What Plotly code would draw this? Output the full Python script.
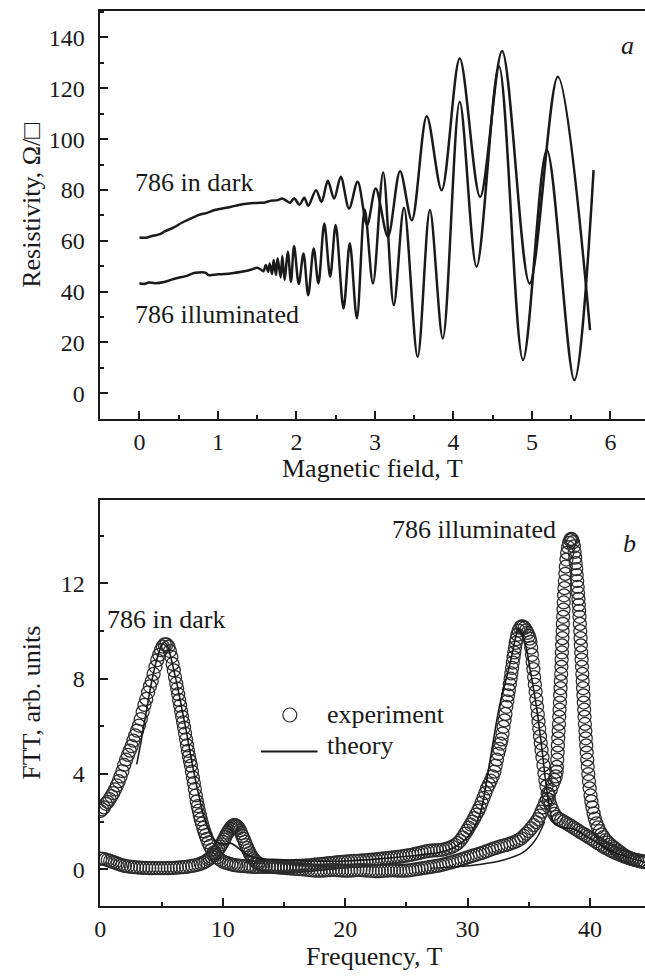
import plotly.graph_objects as go

W, H = 645, 977
FONT = "Liberation Serif"
INK = "#1a1a1a"

# ---------------- panel a: resistivity vs magnetic field ----------------
dark_B = [0.00, 0.08, 0.16, 0.25, 0.33, 0.44, 0.54, 0.65, 0.75, 0.86, 0.96, 1.07, 1.17, 1.28,
          1.39, 1.50, 1.60, 1.68, 1.76, 1.82, 1.87, 1.92, 1.97, 2.04, 2.10, 2.15, 2.25, 2.32,
          2.40, 2.48, 2.565, 2.67, 2.78, 2.90, 3.01, 3.165, 3.32, 3.47, 3.66, 3.85, 4.08, 4.34,
          4.62, 4.97, 5.33, 5.74]
dark_R = [61.3, 61.2, 61.9, 62.5, 63.8, 65.3, 67.1, 68.7, 70.1, 71.0, 72.1, 72.8, 73.4, 74.2,
          74.7, 74.9, 75.1, 75.8, 76.0, 76.6, 75.8, 75.0, 76.7, 74.2, 76.9, 73.8, 79.9, 75.3,
          83.6, 76.6, 85.2, 72.7, 83.2, 66.2, 80.6, 61.6, 87.4, 68.1, 109.0, 79.9, 131.7, 77.3,
          134.7, 43.2, 124.5, 24.9]

ill_B = [0.00, 0.06, 0.12, 0.20, 0.33, 0.46, 0.59, 0.65, 0.71, 0.84, 0.88, 1.00, 1.09, 1.20,
         1.30, 1.43, 1.50, 1.55, 1.58, 1.61, 1.64, 1.66, 1.69, 1.71, 1.74, 1.76, 1.80, 1.82,
         1.85, 1.89, 1.93, 1.97, 2.03, 2.09, 2.15, 2.22, 2.28, 2.355, 2.43, 2.50, 2.60, 2.68,
         2.77, 2.87, 2.975, 3.105, 3.24, 3.37, 3.544, 3.70, 3.865, 4.08, 4.295, 4.58, 4.886,
         5.19, 5.54, 5.785]
ill_R = [43.3, 43.0, 43.6, 43.3, 43.9, 45.2, 46.1, 46.8, 47.4, 47.5, 46.5, 46.8, 46.9, 47.3,
         47.8, 48.7, 49.4, 48.6, 48.0, 50.5, 47.8, 51.1, 46.9, 52.4, 46.5, 53.1, 45.6, 54.0,
         44.6, 55.7, 43.9, 58.0, 43.0, 55.0, 38.6, 57.0, 43.2, 66.8, 45.9, 66.2, 33.4, 59.0,
         29.5, 72.3, 43.2, 86.9, 34.7, 73.0, 14.4, 72.1, 21.6, 114.7, 49.8, 128.7, 13.1,
         95.7, 5.2, 87.8]

# ---------------- panel b: FFT spectra (frequency, amplitude) ----------------
exp_dark = [
    (0.0, 2.45), (0.15, 2.52), (0.3, 2.6), (0.45, 2.75), (0.6, 2.83), (0.75, 2.95), (0.9, 3.07),
    (1.05, 3.2), (1.2, 3.35), (1.35, 3.52), (1.5, 3.7), (1.65, 3.9), (1.8, 4.12), (1.95, 4.38),
    (2.1, 4.6), (2.25, 4.8), (2.4, 4.98), (2.55, 5.17), (2.7, 5.4), (2.85, 5.62), (3.0, 5.82),
    (3.15, 6.03), (3.3, 6.3), (3.45, 6.6), (3.6, 6.9), (3.75, 7.15), (3.9, 7.43), (4.05, 7.68),
    (4.2, 7.9), (4.35, 8.2), (4.5, 8.5), (4.65, 8.78), (4.8, 9.0), (4.95, 9.2), (5.1, 9.35),
    (5.25, 9.44), (5.4, 9.44), (5.55, 9.35), (5.68, 9.16), (5.8, 8.92), (5.9, 8.62), (6.0, 8.35),
    (6.1, 8.07), (6.2, 7.8), (6.28, 7.58), (6.36, 7.35), (6.44, 7.1), (6.52, 6.87), (6.6, 6.62),
    (6.68, 6.4), (6.76, 6.17), (6.84, 5.95), (6.92, 5.7), (7.0, 5.45), (7.08, 5.2), (7.16, 4.97),
    (7.24, 4.75), (7.32, 4.55), (7.4, 4.35), (7.48, 4.1), (7.56, 3.85), (7.64, 3.62), (7.72, 3.37),
    (7.8, 3.1), (7.88, 2.85), (7.96, 2.65), (8.04, 2.46), (8.12, 2.27), (8.2, 2.1), (8.3, 1.92),
    (8.4, 1.74), (8.5, 1.58), (8.6, 1.43), (8.7, 1.28), (8.82, 1.13), (8.95, 0.98), (9.1, 0.83),
    (9.25, 0.7), (9.4, 0.6), (9.55, 0.5), (9.7, 0.43), (9.9, 0.36), (10.1, 0.3), (10.3, 0.27),
    (10.5, 0.24), (10.7, 0.21), (10.9, 0.18), (11.1, 0.17), (11.3, 0.15), (11.5, 0.14),
    (11.75, 0.13), (12.0, 0.12), (12.25, 0.11), (12.5, 0.1), (12.75, 0.1), (13.0, 0.1),
    (13.25, 0.1), (13.5, 0.1), (13.75, 0.1), (14.0, 0.1), (14.25, 0.1), (14.5, 0.11), (14.75, 0.11),
    (15.0, 0.12), (15.25, 0.12), (15.5, 0.12), (15.75, 0.13), (16.0, 0.14), (16.25, 0.14),
    (16.5, 0.15), (16.75, 0.16), (17.0, 0.17), (17.25, 0.18), (17.5, 0.2), (17.75, 0.21),
    (18.0, 0.22), (18.25, 0.23), (18.5, 0.25), (18.75, 0.26), (19.0, 0.27), (19.25, 0.29),
    (19.5, 0.3), (19.75, 0.31), (20.0, 0.32), (20.25, 0.33), (20.5, 0.34), (20.75, 0.35),
    (21.0, 0.35), (21.25, 0.36), (21.5, 0.37), (21.75, 0.38), (22.0, 0.4), (22.25, 0.41),
    (22.5, 0.42), (22.75, 0.44), (23.0, 0.45), (23.25, 0.46), (23.5, 0.47), (23.75, 0.49),
    (24.0, 0.5), (24.25, 0.52), (24.5, 0.53), (24.75, 0.55), (25.0, 0.57), (25.25, 0.6),
    (25.5, 0.62), (25.75, 0.65), (26.0, 0.68), (26.25, 0.71), (26.5, 0.74), (26.75, 0.76),
    (27.0, 0.78), (27.25, 0.79), (27.5, 0.8), (27.75, 0.81), (28.0, 0.83), (28.25, 0.86),
    (28.5, 0.9), (28.75, 0.95), (29.0, 1.02), (29.2, 1.1), (29.4, 1.2), (29.6, 1.34), (29.8, 1.5),
    (29.95, 1.62), (30.1, 1.75), (30.25, 1.88), (30.4, 2.0), (30.55, 2.15), (30.7, 2.3),
    (30.85, 2.45), (31.0, 2.6), (31.15, 2.8), (31.3, 3.0), (31.45, 3.2), (31.6, 3.4), (31.75, 3.56),
    (31.9, 3.72), (32.05, 3.9), (32.2, 4.1), (32.3, 4.35), (32.4, 4.6), (32.5, 4.85), (32.6, 5.05),
    (32.7, 5.27), (32.78, 5.45), (32.86, 5.7), (32.94, 5.98), (33.02, 6.25), (33.1, 6.52),
    (33.17, 6.82), (33.24, 7.05), (33.31, 7.3), (33.38, 7.52), (33.45, 7.77), (33.52, 8.0),
    (33.58, 8.22), (33.64, 8.45), (33.7, 8.68), (33.76, 8.9), (33.82, 9.1), (33.88, 9.3),
    (33.94, 9.5), (34.0, 9.66), (34.08, 9.85), (34.18, 10.02), (34.3, 10.14), (34.42, 10.2),
    (34.54, 10.19), (34.66, 10.13), (34.78, 10.03), (34.9, 9.92), (35.0, 9.8), (35.08, 9.68),
    (35.14, 9.55), (35.2, 9.3), (35.26, 9.0), (35.32, 8.7), (35.38, 8.4), (35.44, 8.07),
    (35.5, 7.75), (35.56, 7.45), (35.62, 7.13), (35.68, 6.82), (35.74, 6.5), (35.8, 6.2),
    (35.86, 5.9), (35.92, 5.58), (35.98, 5.3), (36.05, 5.0), (36.12, 4.7), (36.2, 4.37),
    (36.28, 4.03), (36.36, 3.75), (36.45, 3.48), (36.55, 3.18), (36.66, 2.91), (36.78, 2.7),
    (36.92, 2.5), (37.08, 2.33), (37.25, 2.2), (37.45, 2.12), (37.65, 2.06), (37.85, 2.0),
    (38.05, 1.94), (38.25, 1.88), (38.45, 1.82), (38.65, 1.75), (38.85, 1.69), (39.05, 1.62),
    (39.25, 1.55), (39.45, 1.49), (39.65, 1.43), (39.85, 1.37), (40.05, 1.3), (40.25, 1.24),
    (40.45, 1.17), (40.65, 1.1), (40.85, 1.04), (41.05, 0.97), (41.25, 0.91), (41.45, 0.86),
    (41.65, 0.8), (41.85, 0.75), (42.05, 0.7), (42.25, 0.65), (42.45, 0.61), (42.65, 0.57),
    (42.85, 0.53), (43.05, 0.5), (43.25, 0.46), (43.45, 0.43), (43.65, 0.4), (43.85, 0.38),
    (44.05, 0.36), (44.25, 0.34), (44.45, 0.32)]

exp_ill = [
    (0.0, 0.45), (0.2, 0.44), (0.4, 0.42), (0.6, 0.39), (0.8, 0.35), (1.0, 0.31), (1.2, 0.28),
    (1.4, 0.24), (1.6, 0.2), (1.8, 0.17), (2.0, 0.14), (2.25, 0.12), (2.5, 0.1), (2.75, 0.09),
    (3.0, 0.08), (3.25, 0.07), (3.5, 0.06), (3.75, 0.06), (4.0, 0.05), (4.25, 0.05), (4.5, 0.05),
    (4.75, 0.05), (5.0, 0.05), (5.25, 0.05), (5.5, 0.05), (5.75, 0.06), (6.0, 0.06), (6.25, 0.07),
    (6.5, 0.08), (6.75, 0.09), (7.0, 0.1), (7.25, 0.12), (7.5, 0.14), (7.75, 0.17), (8.0, 0.2),
    (8.2, 0.24), (8.4, 0.28), (8.6, 0.33), (8.8, 0.4), (8.95, 0.46), (9.1, 0.52), (9.25, 0.6),
    (9.4, 0.68), (9.52, 0.76), (9.65, 0.85), (9.78, 0.95), (9.9, 1.05), (10.0, 1.15), (10.1, 1.25),
    (10.2, 1.35), (10.3, 1.45), (10.4, 1.54), (10.5, 1.62), (10.6, 1.7), (10.7, 1.76), (10.8, 1.81),
    (10.9, 1.85), (11.0, 1.85), (11.1, 1.83), (11.2, 1.78), (11.3, 1.72), (11.4, 1.63), (11.5, 1.52),
    (11.6, 1.4), (11.7, 1.28), (11.8, 1.15), (11.9, 1.02), (12.0, 0.9), (12.1, 0.79), (12.2, 0.68),
    (12.3, 0.58), (12.4, 0.5), (12.5, 0.43), (12.6, 0.36), (12.75, 0.3), (12.9, 0.25), (13.1, 0.2),
    (13.3, 0.17), (13.5, 0.14), (13.75, 0.12), (14.0, 0.1), (14.25, 0.09), (14.5, 0.08),
    (14.75, 0.07), (15.0, 0.06), (15.25, 0.05), (15.5, 0.04), (15.75, 0.03), (16.0, 0.02),
    (16.25, 0.01), (16.5, 0.0), (16.75, -0.01), (17.0, -0.02), (17.25, -0.04), (17.5, -0.05),
    (17.75, -0.06), (18.0, -0.06), (18.25, -0.05), (18.5, -0.04), (18.75, -0.03), (19.0, -0.02),
    (19.25, -0.03), (19.5, -0.04), (19.75, -0.05), (20.0, -0.06), (20.25, -0.06), (20.5, -0.05),
    (20.75, -0.04), (21.0, -0.03), (21.25, -0.03), (21.5, -0.04), (21.75, -0.05), (22.0, -0.06),
    (22.25, -0.07), (22.5, -0.08), (22.75, -0.08), (23.0, -0.07), (23.25, -0.06), (23.5, -0.05),
    (23.75, -0.04), (24.0, -0.04), (24.25, -0.05), (24.5, -0.06), (24.75, -0.06), (25.0, -0.05),
    (25.25, -0.04), (25.5, -0.02), (25.75, 0.0), (26.0, 0.02), (26.25, 0.04), (26.5, 0.06),
    (26.75, 0.08), (27.0, 0.1), (27.25, 0.12), (27.5, 0.14), (27.75, 0.17), (28.0, 0.2),
    (28.25, 0.23), (28.5, 0.27), (28.75, 0.3), (29.0, 0.34), (29.25, 0.38), (29.5, 0.42),
    (29.75, 0.46), (30.0, 0.5), (30.25, 0.54), (30.5, 0.58), (30.75, 0.62), (31.0, 0.66),
    (31.25, 0.7), (31.5, 0.75), (31.75, 0.8), (32.0, 0.85), (32.25, 0.89), (32.5, 0.93),
    (32.75, 0.97), (33.0, 1.0), (33.25, 1.04), (33.5, 1.08), (33.75, 1.13), (34.0, 1.18),
    (34.2, 1.24), (34.4, 1.3), (34.6, 1.4), (34.8, 1.5), (35.0, 1.6), (35.2, 1.72), (35.4, 1.85),
    (35.6, 1.98), (35.75, 2.1), (35.9, 2.25), (36.05, 2.42), (36.2, 2.6), (36.35, 2.8), (36.5, 2.95),
    (36.65, 3.13), (36.8, 3.33), (36.95, 3.55), (37.1, 3.75), (37.2, 3.9), (37.28, 4.1),
    (37.3, 4.3), (37.33, 4.6), (37.36, 4.9), (37.38, 5.2), (37.41, 5.5), (37.44, 5.8), (37.47, 6.1),
    (37.49, 6.4), (37.52, 6.7), (37.55, 7.0), (37.57, 7.3), (37.6, 7.6), (37.62, 7.9), (37.65, 8.2),
    (37.67, 8.5), (37.69, 8.8), (37.71, 9.1), (37.73, 9.4), (37.75, 9.7), (37.77, 10.0),
    (37.79, 10.3), (37.81, 10.6), (37.84, 10.9), (37.86, 11.2), (37.89, 11.5), (37.92, 11.8),
    (37.95, 12.1), (37.99, 12.4), (38.03, 12.7), (38.08, 13.0), (38.14, 13.28), (38.22, 13.52),
    (38.3, 13.7), (38.38, 13.82), (38.46, 13.87), (38.54, 13.84), (38.62, 13.73), (38.69, 13.55),
    (38.75, 13.32), (38.8, 13.08), (38.84, 12.85), (38.88, 12.6), (38.92, 12.35), (38.96, 12.1),
    (39.0, 11.85), (39.03, 11.6), (39.06, 11.35), (39.09, 11.1), (39.12, 10.85), (39.15, 10.6),
    (39.18, 10.3), (39.21, 10.0), (39.24, 9.7), (39.26, 9.4), (39.29, 9.1), (39.32, 8.8),
    (39.35, 8.5), (39.38, 8.2), (39.41, 7.9), (39.44, 7.6), (39.47, 7.3), (39.5, 7.0), (39.53, 6.7),
    (39.56, 6.4), (39.59, 6.1), (39.63, 5.8), (39.66, 5.5), (39.7, 5.2), (39.74, 4.9), (39.78, 4.6),
    (39.82, 4.3), (39.87, 4.0), (39.92, 3.7), (39.98, 3.4), (40.05, 3.1), (40.12, 2.85), (40.2, 2.6),
    (40.3, 2.35), (40.4, 2.13), (40.52, 1.93), (40.65, 1.76), (40.8, 1.6), (40.95, 1.47),
    (41.1, 1.35), (41.28, 1.23), (41.45, 1.13), (41.65, 1.04), (41.85, 0.96), (42.05, 0.88),
    (42.25, 0.8), (42.45, 0.72), (42.65, 0.64), (42.85, 0.57), (43.05, 0.52), (43.25, 0.47),
    (43.45, 0.43), (43.65, 0.4), (43.85, 0.37), (44.05, 0.34), (44.25, 0.32), (44.45, 0.3)]

th_dark = [
    (2.97, 4.4), (3.3, 5.3), (3.57, 6.07), (3.9, 7.05), (4.24, 8.0), (4.5, 8.6), (4.78, 9.1),
    (5.0, 9.4), (5.19, 9.52), (5.4, 9.45), (5.6, 9.2), (5.85, 8.7), (6.05, 8.25), (6.27, 7.75),
    (6.6, 6.9), (7.0, 5.85), (7.5, 4.45), (8.0, 3.2), (8.5, 2.15), (9.0, 1.5), (9.5, 1.15),
    (10.0, 1.05), (10.6, 1.1), (11.0, 1.0), (11.5, 0.8), (12.0, 0.6), (13.0, 0.45), (14.0, 0.42),
    (15.0, 0.4), (17.0, 0.35), (20.0, 0.35), (23.0, 0.45), (26.0, 0.6), (28.0, 0.75), (29.0, 0.95),
    (30.0, 1.35), (31.0, 2.3), (31.66, 4.03), (32.6, 6.82), (33.41, 8.5), (33.95, 9.76),
    (34.14, 10.11), (34.63, 9.62), (35.17, 8.22), (35.71, 6.54), (36.12, 4.87), (36.52, 3.19),
    (37.06, 1.93), (37.8, 1.75), (38.6, 1.7), (40.0, 1.3), (42.0, 0.7), (44.5, 0.3)]

th_ill = [(27.0, 0.05), (29.0, 0.1), (31.0, 0.2), (33.0, 0.4), (34.5, 0.7), (35.5, 1.2), (36.3, 2.0)]

exp_dark_F = [p[0] for p in exp_dark]
exp_dark_A = [p[1] for p in exp_dark]
exp_ill_F = [p[0] for p in exp_ill]
exp_ill_A = [p[1] for p in exp_ill]
th_dark_F = [p[0] for p in th_dark]
th_dark_A = [p[1] for p in th_dark]
th_ill_F = [p[0] for p in th_ill]
th_ill_A = [p[1] for p in th_ill]


def px(x):
    return x / W


def py(y):
    return 1 - y / H


fig = go.Figure()

# panel a
fig.add_trace(go.Scatter(x=dark_B, y=dark_R, mode="lines", xaxis="x", yaxis="y",
                         line=dict(color=INK, width=2.5, shape="spline", smoothing=0.9),
                         name="786 in dark"))
fig.add_trace(go.Scatter(x=ill_B, y=ill_R, mode="lines", xaxis="x", yaxis="y",
                         line=dict(color=INK, width=2.5, shape="spline", smoothing=0.9),
                         name="786 illuminated"))

# panel b
marker = dict(symbol="circle-open", size=13, color="#2b2b2b", line=dict(width=1.25))
fig.add_trace(go.Scatter(x=exp_ill_F, y=exp_ill_A, mode="markers", xaxis="x2", yaxis="y2",
                         marker=marker, name="experiment (illuminated)"))
fig.add_trace(go.Scatter(x=exp_dark_F, y=exp_dark_A, mode="markers", xaxis="x2", yaxis="y2",
                         marker=marker, name="experiment (dark)"))
fig.add_trace(go.Scatter(x=th_ill_F, y=th_ill_A, mode="lines", xaxis="x2", yaxis="y2",
                         line=dict(color=INK, width=1.4, shape="spline"), name="theory"))
fig.add_trace(go.Scatter(x=th_dark_F, y=th_dark_A, mode="lines", xaxis="x2", yaxis="y2",
                         line=dict(color=INK, width=1.6, shape="spline"), name="theory"))


def axis(rng, dtick, mdtick, domain, anchor, mirror, standoff=0):
    return dict(range=rng, dtick=dtick, tick0=0, domain=domain, anchor=anchor,
                showline=True, linecolor=INK, linewidth=2.2, mirror=mirror,
                ticks="inside", ticklen=8, tickwidth=1.6, tickcolor=INK,
                minor=dict(ticks="inside", ticklen=4, tickwidth=1.6, tickcolor=INK, dtick=mdtick, tick0=0),
                showgrid=False, zeroline=False, ticklabelstandoff=standoff,
                tickfont=dict(family=FONT, size=24, color=INK))


xdom = [px(95.5), 1.0]
ya_dom = [py(419), py(10.5)]
yb_dom = [py(906), py(500)]

fig.update_layout(
    width=W, height=H, margin=dict(l=0, r=0, t=0, b=0),
    paper_bgcolor="white", plot_bgcolor="white", showlegend=False,
    xaxis=axis([-0.505, 6.44], 1, 0.5, xdom, "y", True),
    yaxis=axis([-10.1, 150.6], 20, 10, ya_dom, "x", False, 8),
    xaxis2=axis([-0.05, 44.5], 10, 5, xdom, "y2", True),
    yaxis2=axis([-1.54, 15.5], 4, 2, yb_dom, "x2", False, 8),
)

txt = dict(family=FONT, size=26, color=INK)
ann = [
    dict(x=px(370), y=py(468), text="Magnetic field, T", xanchor="center", yanchor="middle"),
    dict(x=px(26), y=py(205), text="Resistivity, Ω/□", textangle=-90, xanchor="center", yanchor="middle"),
    dict(x=px(372), y=py(956), text="Frequency, T", xanchor="center", yanchor="middle"),
    dict(x=px(26), y=py(703), text="FTT, arb. units", textangle=-90, xanchor="center", yanchor="middle"),
    dict(x=px(129), y=py(183), text="786 in dark", xanchor="left", yanchor="middle"),
    dict(x=px(129), y=py(314), text="786 illuminated", xanchor="left", yanchor="middle"),
    dict(x=px(627), y=py(45), text="<i>a</i>", xanchor="center", yanchor="middle"),
    dict(x=px(388), y=py(529), text="786 illuminated", xanchor="left", yanchor="middle"),
    dict(x=px(101), y=py(619), text="786 in dark", xanchor="left", yanchor="middle"),
    dict(x=px(629), y=py(543), text="<i>b</i>", xanchor="center", yanchor="middle"),
    dict(x=px(323), y=py(714), text="experiment", xanchor="left", yanchor="middle"),
    dict(x=px(323), y=py(745), text="theory", xanchor="left", yanchor="middle"),
]
for a in ann:
    a.update(xref="paper", yref="paper", showarrow=False, font=txt)
fig.update_layout(annotations=ann)

# legend symbols
fig.add_shape(type="circle", xref="paper", yref="paper",
              x0=px(280), x1=px(294), y0=py(722), y1=py(708),
              line=dict(color="#2b2b2b", width=1.2))
fig.add_shape(type="line", xref="paper", yref="paper",
              x0=px(258), x1=px(315), y0=py(751.5), y1=py(751.5),
              line=dict(color=INK, width=2.2))

fig.write_html("out.html")
